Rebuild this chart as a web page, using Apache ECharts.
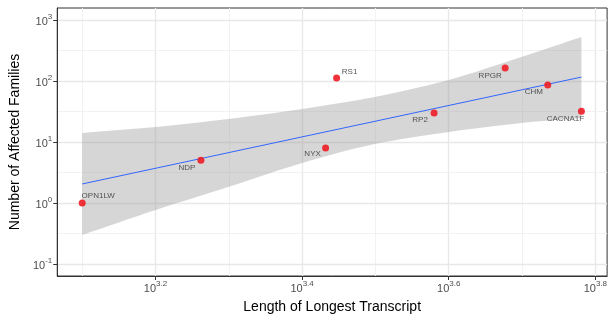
<!DOCTYPE html>
<html>
<head>
<meta charset="utf-8">
<script src="https://cdn.jsdelivr.net/npm/echarts@6/dist/echarts.min.js"></script>
<style>
  html, body { margin: 0; padding: 0; background: #fff; }
  #chart { width: 610px; height: 320px; }
</style>
</head>
<body>
<div id="chart"></div>
<script>
// genes, transcript length (bp) and affected families
var genes = ['OPN1LW', 'NDP', 'NYX', 'RS1', 'RP2', 'RPGR', 'CHM', 'CACNA1F'];
var lengths = [1259, 1828, 2704, 2799, 3802, 4753, 5433, 6039];
var families = [1, 5, 8, 112, 30, 163, 86, 32];

// fitted line and confidence band
var fitX = [1259, 6039];
var fitY = [2.05, 116];
var bandX = [1259, 1585, 1991, 2512, 3155, 3981, 5000, 6039];
var bandUpper = [14.1, 17.6, 23.8, 34.8, 54.7, 104, 247, 526];
var bandLower = [0.30, 0.77, 1.83, 4.53, 9.27, 14.6, 20.5, 24.7];

// ticks, as powers of ten
var xTicks = [3.2, 3.4, 3.6, 3.8];
var xMinor = [3.1, 3.3, 3.5, 3.7];
var yTicks = [-1, 0, 1, 2, 3];
var yMinor = [-0.5, 0.5, 1.5, 2.5];

// label nudges (px) relative to the point
var labelOffsets = {
    OPN1LW: [16, -7], NDP: [-14, 7], NYX: [-13, 6], RS1: [13, -6],
    RP2: [-14, 7], RPGR: [-15, 8], CHM: [-14, 7], CACNA1F: [-16, 8]
};

var lg = Math.log10;
var chart = echarts.init(document.getElementById('chart'));

var major = {color: '#e8e8e8', width: 1.4, type: 'solid'};
var minor = {color: '#f0f0f0', width: 0.9, type: 'solid'};
var gridLines = [];
xTicks.forEach(function (v) { gridLines.push({xAxis: v, lineStyle: major}); });
xMinor.forEach(function (v) { gridLines.push({xAxis: v, lineStyle: minor}); });
yTicks.forEach(function (v) { gridLines.push({yAxis: v, lineStyle: major}); });
yMinor.forEach(function (v) { gridLines.push({yAxis: v, lineStyle: minor}); });

var points = genes.map(function (g, i) {
    return {
        name: g,
        value: [lg(lengths[i]), lg(families[i])],
        label: {offset: labelOffsets[g]}
    };
});

var supRich = {
    b: {fontSize: 11, color: '#4d4d4d', lineHeight: 14, verticalAlign: 'bottom', fontFamily: 'Liberation Sans'},
    s: {fontSize: 8, color: '#4d4d4d', lineHeight: 14, verticalAlign: 'top', fontFamily: 'Liberation Sans'}
};

var option = {
    animation: false,
    grid: {left: 55, top: 8, right: 2, bottom: 44, show: true, borderColor: '#333', borderWidth: 1, backgroundColor: '#fff'},
    xAxis: {
        type: 'value',
        min: 3.066, max: 3.816,
        name: 'Length of Longest Transcript',
        nameLocation: 'middle',
        nameGap: 24,
        nameTextStyle: {fontSize: 14, color: '#000', fontFamily: 'Liberation Sans'},
        axisLine: {show: true, onZero: false, lineStyle: {color: '#333'}},
        axisTick: {show: true, length: 4, customValues: xTicks, lineStyle: {color: '#333'}},
        axisLabel: {
            customValues: xTicks,
            margin: 4,
            formatter: function (v) { return '{b|10}{s|' + v.toFixed(1) + '}'; },
            rich: supRich
        },
        splitLine: {show: false}
    },
    yAxis: {
        type: 'value',
        min: -1.197, max: 3.197,
        name: 'Number of Affected Families',
        nameLocation: 'middle',
        nameGap: 34,
        nameTextStyle: {fontSize: 14, color: '#000', fontFamily: 'Liberation Sans'},
        axisLine: {show: true, onZero: false, lineStyle: {color: '#333'}},
        axisTick: {show: true, length: 4, customValues: yTicks, lineStyle: {color: '#333'}},
        axisLabel: {
            customValues: yTicks,
            margin: 5,
            formatter: function (v) { return '{b|10}{s|' + Math.round(v) + '}'; },
            rich: supRich
        },
        splitLine: {show: false}
    },
    series: [
        {
            type: 'line',
            z: 0,
            data: [[3.1, 0]],
            showSymbol: false,
            lineStyle: {opacity: 0},
            markLine: {silent: true, z: 0, symbol: 'none', label: {show: false}, data: gridLines}
        },
        {
            // confidence band: upper edge left->right, lower edge back; corners doubled to stay sharp
            type: 'custom',
            z: 1,
            silent: true,
            data: [[lg(bandX[0]), 0]],
            renderItem: function (params, api) {
                var up = bandX.map(function (x, i) { return api.coord([lg(x), lg(bandUpper[i])]); });
                var lo = bandX.map(function (x, i) { return api.coord([lg(x), lg(bandLower[i])]); });
                var n = bandX.length;
                var pts = [up[0]].concat(up, [up[n - 1]], [lo[n - 1]], lo.slice().reverse(), [lo[0]]);
                return {type: 'polygon', shape: {points: pts, smooth: 0.3}, style: {fill: 'rgba(153,153,153,0.4)'}};
            }
        },
        {
            type: 'line',
            z: 2,
            data: fitX.map(function (x, i) { return [lg(x), lg(fitY[i])]; }),
            showSymbol: false,
            lineStyle: {color: '#3366ff', width: 1}
        },
        {
            type: 'scatter',
            z: 3,
            symbolSize: 7,
            itemStyle: {color: '#ee1c25', opacity: 0.9},
            data: points,
            label: {
                show: true,
                position: 'inside',
                formatter: '{b}',
                fontSize: 8,
                color: '#444',
                fontFamily: 'Liberation Sans'
            }
        }
    ]
};

chart.setOption(option);
</script>
</body>
</html>
